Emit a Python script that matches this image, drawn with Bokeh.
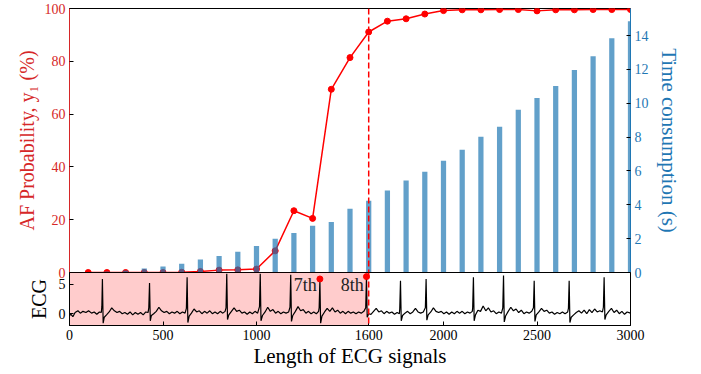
from bokeh.plotting import figure
from bokeh.models import Range1d, LinearAxis, Span, FixedTicker, BoxAnnotation, ColumnDataSource
from bokeh.layouts import column
from bokeh.core.properties import value
from bokeh.embed import file_html
from bokeh.resources import INLINE

# ---------------- data ----------------
lengths = [100, 200, 300, 400, 500, 600, 700, 800, 900, 1000,
           1100, 1200, 1300, 1400, 1500, 1600, 1700, 1800, 1900, 2000,
           2100, 2200, 2300, 2400, 2500, 2600, 2700, 2800, 2900, 3000]
af_prob = [0.0, 0.0, 0.0, 0.0, 0.0, 0.1, 0.4, 0.9, 1.0, 1.3,
           8.2, 23.4, 20.5, 69.4, 81.4, 91.1, 95.2, 96.1, 97.9, 99.2,
           99.5, 99.5, 99.6, 99.6, 99.1, 99.5, 99.5, 99.6, 99.6, 99.6]
time_s = [0.03, 0.06, 0.12, 0.24, 0.35, 0.51, 0.77, 0.98, 1.22, 1.57,
          1.99, 2.34, 2.76, 2.99, 3.77, 4.24, 4.84, 5.43, 5.96, 6.61,
          7.25, 8.02, 8.61, 9.61, 10.31, 11.02, 11.96, 12.78, 13.84, 14.84]

ecg_x = [0, 8, 18, 30, 45, 58, 72, 88, 102, 118, 132, 146, 160, 170, 173, 176, 180, 186,
         198, 212, 226, 240, 254, 268, 282, 296, 310, 324, 338, 352, 366, 380, 394, 408, 420, 424, 428, 432, 438,
         450, 464, 478, 492, 506, 520, 534, 548, 562, 576, 590, 604, 618, 625, 629, 633, 640,
         652, 666, 680, 694, 708, 722, 736, 750, 764, 778, 792, 806, 820, 832, 837, 841, 845, 852,
         866, 880, 894, 908, 922, 936, 950, 964, 978, 992, 1006, 1016, 1020, 1024, 1032,
         1046, 1060, 1074, 1088, 1102, 1116, 1130, 1144, 1158, 1172, 1179, 1183, 1187, 1194,
         1208, 1222, 1236, 1250, 1264, 1278, 1292, 1306, 1320, 1332, 1335, 1339, 1343, 1350,
         1364, 1378, 1392, 1406, 1420, 1434, 1448, 1462, 1476, 1490, 1504, 1518, 1532, 1546, 1560, 1574, 1584, 1588, 1592,
         1600, 1612, 1626, 1640, 1654, 1668, 1682, 1696, 1710, 1724, 1738, 1752, 1764, 1766, 1770, 1774, 1781,
         1794, 1808, 1822, 1836, 1850, 1864, 1878, 1892, 1903, 1907, 1911, 1918,
         1932, 1946, 1960, 1974, 1988, 2002, 2016, 2030, 2044, 2058, 2072, 2086, 2100, 2114, 2128, 2142, 2154, 2156, 2160, 2164, 2171,
         2184, 2198, 2212, 2226, 2240, 2254, 2268, 2282, 2296, 2310, 2317, 2321, 2325, 2332,
         2346, 2360, 2374, 2388, 2402, 2416, 2430, 2444, 2458, 2472, 2481, 2485, 2489, 2496,
         2510, 2524, 2538, 2552, 2566, 2580, 2594, 2608, 2622, 2636, 2650, 2664, 2668, 2672, 2676, 2683,
         2696, 2710, 2724, 2738, 2752, 2766, 2780, 2794, 2808, 2822, 2836, 2850, 2855, 2859, 2863, 2870,
         2884, 2898, 2912, 2926, 2940, 2954, 2968, 2982, 3000]
ecg_y = [-0.3, -0.1, -0.5, 0.2, 0.5, 0.1, 0.4, 0.2, 0.5, 0.1, 0.3, -0.1, 0.3, 0.2, 1.2, 5.9, -1.6, -0.6,
         -0.2, 0.3, 1.0, 0.5, 0.2, 0.4, 0.0, 0.2, -0.1, 0.3, -0.2, 0.2, -0.1, 0.2, -0.2, 0.3, 0.2, 1.0, 5.2, -1.2, -0.3,
         0.0, 0.4, 1.1, 0.5, 0.2, 0.4, 0.0, 0.3, 0.1, 0.4, 0.0, 0.3, 0.1, 0.9, 6.2, -1.5, -0.4,
         0.1, 0.8, 0.3, 0.5, 0.0, 0.4, 0.1, 0.5, 0.0, 0.3, 0.0, 0.4, 0.1, 0.4, 1.0, 6.8, -1.0, -0.2,
         0.4, 1.0, 0.4, 0.6, 0.1, 0.3, -0.1, 0.3, 0.0, 0.4, 0.1, 1.2, 6.8, -1.2, -0.3,
         0.3, 1.1, 0.4, 0.7, 0.1, 0.4, 0.0, 0.3, 0.1, 0.3, 1.1, 6.6, -1.3, -0.3,
         0.4, 1.2, 0.5, 0.7, 0.1, 0.4, 0.0, 0.3, 0.0, 0.4, 1.0, 5.7, -1.6, -0.4,
         0.3, 0.9, 0.4, 1.0, 0.3, 0.6, 0.1, 0.4, 0.0, 0.4, 0.1, 0.3, 0.0, 0.3, 0.1, 0.4, 1.0, 6.0, -0.6,
         0.0, -0.1, 0.4, 0.9, 0.3, 0.5, 0.0, 0.4, 0.1, 0.3, -0.1, 0.2, 0.0, 0.8, 5.6, -1.2, -0.3,
         0.1, 0.4, 0.0, 0.3, 0.9, 0.3, 0.1, 0.3, 1.0, 5.9, -1.1, -0.2,
         0.3, 1.0, 0.4, 0.2, 0.4, 0.0, 0.3, -0.1, 0.3, 0.0, 0.4, 0.1, 0.4, 0.0, 0.3, 0.1, 0.4, 1.0, 6.2, -1.2, -0.2,
         0.6, 0.4, 1.3, 0.5, 1.0, 0.3, 0.5, 0.0, 0.3, 0.1, 1.0, 6.5, -1.4, -0.4,
         0.4, 1.1, 0.5, 0.8, 0.2, 0.6, 0.0, 0.3, 0.1, 0.4, 1.0, 5.6, -1.3, -0.2,
         0.3, 0.9, 0.4, 0.6, 0.1, 0.3, -0.1, 0.2, 0.0, 0.3, 0.0, 0.3, 0.9, 5.6, -1.5, -0.6,
         -0.2, 0.2, 0.5, 0.1, 0.6, 0.0, 0.7, 0.2, 0.8, 0.3, 0.5, 0.3, 1.1, 6.2, -1.0, -0.2,
         0.4, 0.9, 0.2, 0.6, 0.0, 0.4, -0.1, 0.3, 0.1]

peak_x = [1339, 1588]
peak_y = [5.9, 6.3]
peak_labels = ["7th", "8th"]
label_x = [1322, 1574]
label_y = [4.9, 4.9]

x_ticks = [0, 500, 1000, 1600, 2000, 2500, 3000]
prob_ticks = [0, 20, 40, 60, 80, 100]
time_ticks = [0, 2, 4, 6, 8, 10, 12, 14]
ecg_ticks = [0, 5]

RED = "#d62728"
BLUE = "#1f77b4"
FONT = "Liberation Serif"
TICK_FS = "14px"

xr = Range1d(0, 3000)

# ---------------- top panel ----------------
p = figure(width=701, height=280, x_range=xr, y_range=Range1d(0, 100),
           x_axis_location=None, output_backend="svg", toolbar_location=None,
           min_border_left=69, min_border_right=71, min_border_top=8, min_border_bottom=8)
p.extra_y_ranges = {"t": Range1d(0, 15.6)}
p.grid.visible = False
p.outline_line_color = "black"
p.outline_line_width = 1
p.background_fill_color = "white"
p.border_fill_color = None

ya = p.yaxis[0]
ya.ticker = FixedTicker(ticks=prob_ticks)
ya.axis_label = "AF Probability, y\u2081 (%)"
ya.axis_label_text_color = RED
ya.axis_label_text_font = FONT
ya.axis_label_text_font_style = "normal"
ya.axis_label_text_font_size = "20px"
ya.major_label_text_color = RED
ya.major_label_text_font = FONT
ya.major_label_text_font_size = TICK_FS
ya.axis_line_color = RED
ya.major_tick_in = 4
ya.major_tick_out = 0
ya.minor_tick_line_color = None
ya.major_tick_line_color = "black"
ya.major_label_standoff = 4
ya.axis_label_standoff = 4

ra = LinearAxis(y_range_name="t", ticker=FixedTicker(ticks=time_ticks))
ra.axis_label = "Time consumption (s)"
ra.axis_label_text_color = BLUE
ra.axis_label_text_font = FONT
ra.axis_label_text_font_style = "normal"
ra.axis_label_text_font_size = "21px"
ra.major_label_text_color = BLUE
ra.major_label_text_font = FONT
ra.major_label_text_font_size = TICK_FS
ra.axis_line_color = BLUE
ra.major_tick_in = 4
ra.major_tick_out = 0
ra.minor_tick_line_color = None
ra.major_tick_line_color = "black"
ra.major_label_standoff = 4
ra.axis_label_standoff = 5
p.add_layout(ra, "right")

src = ColumnDataSource(dict(x=lengths, prob=af_prob, t=time_s))
p.line("x", "prob", source=src, color="red", line_width=1.5)
p.scatter("x", "prob", source=src, color="red", size=6)
p.vbar(x="x", top="t", width=28, source=src, y_range_name="t",
       fill_color=BLUE, fill_alpha=0.7, line_color=None)
p.add_layout(Span(location=1600, dimension="height", line_color="red",
                  line_dash="6 3", line_width=1.5))

# ---------------- bottom panel ----------------
q = figure(width=701, height=102, x_range=xr, y_range=Range1d(-2, 7),
           output_backend="svg", toolbar_location=None,
           min_border_left=69, min_border_right=71, min_border_top=0, min_border_bottom=49,
           margin=(-8, 0, 0, 0))
q.grid.visible = False
q.outline_line_color = "black"
q.outline_line_width = 1
q.border_fill_color = None
q.add_layout(BoxAnnotation(left=0, right=1600, fill_color="red", fill_alpha=0.2,
                           line_color=None, level="underlay"))

xa = q.xaxis[0]
xa.ticker = FixedTicker(ticks=x_ticks)
xa.axis_label = "Length of ECG signals"
xa.axis_label_text_font = FONT
xa.axis_label_text_font_style = "normal"
xa.axis_label_text_font_size = "21px"
xa.axis_label_text_color = "black"
xa.major_label_text_font = FONT
xa.major_label_text_font_size = TICK_FS
xa.major_label_text_color = "black"
xa.major_tick_in = 4
xa.major_tick_out = 0
xa.minor_tick_line_color = None
xa.major_label_standoff = 4
xa.axis_label_standoff = 1

ea = q.yaxis[0]
ea.ticker = FixedTicker(ticks=ecg_ticks)
ea.axis_label = "ECG"
ea.axis_label_text_font = FONT
ea.axis_label_text_font_style = "normal"
ea.axis_label_text_font_size = "20px"
ea.axis_label_text_color = "black"
ea.major_label_text_font = FONT
ea.major_label_text_font_size = TICK_FS
ea.major_label_text_color = "black"
ea.major_tick_in = 4
ea.major_tick_out = 0
ea.minor_tick_line_color = None
ea.major_label_standoff = 4
ea.axis_label_standoff = 6

q.line(ecg_x, ecg_y, color="black", line_width=1.2)
q.scatter(peak_x, peak_y, color="red", size=6)
q.text(x=label_x, y=label_y, text=peak_labels, text_align="right", text_baseline="middle",
       text_font=value(FONT), text_font_size="18px", text_color="#222222")
q.add_layout(Span(location=1600, dimension="height", line_color="red",
                  line_dash="6 3", line_width=1.5))

layout = column(p, q, spacing=0)
open("out.html", "w").write(file_html(layout, INLINE))
